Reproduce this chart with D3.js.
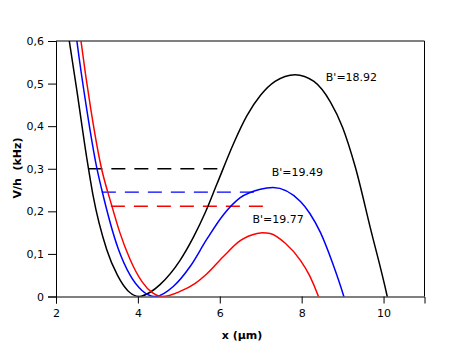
<!DOCTYPE html>
<html>
<head>
<meta charset="utf-8">
<script src="https://cdn.jsdelivr.net/npm/d3@7"></script>
<style>
  body { margin: 0; background: #fff; }
  svg { display: block; font-family: "DejaVu Sans", sans-serif; }
</style>
</head>
<body>
<svg id="chart" width="457" height="350"></svg>
<script>
// potential curves: [x (µm), V/h (kHz)]
const blackCurve = [
  [2.22, 0.67], [2.325, 0.6], [2.5, 0.49], [2.76, 0.32], [2.9, 0.24], [3.24, 0.11],
  [3.5, 0.05], [3.76, 0.013], [4.03, 0], [4.3, 0.01], [4.54, 0.028], [5.03, 0.085],
  [5.36, 0.14], [5.64, 0.196], [5.93, 0.264], [6.34, 0.36], [6.66, 0.424],
  [7.0, 0.473], [7.35, 0.505], [7.84, 0.521], [8.3, 0.505], [8.7, 0.457], [9.0, 0.397],
  [9.31, 0.304], [9.68, 0.16], [10.09, 0], [10.2, -0.05]
];
const blueCurve = [
  [2.42, 0.67], [2.51, 0.6], [2.75, 0.44], [2.99, 0.305], [3.12, 0.25], [3.52, 0.112],
  [3.81, 0.05], [4.1, 0.014], [4.42, 0], [4.87, 0.024], [5.28, 0.071], [5.68, 0.134],
  [6.09, 0.192], [6.5, 0.232], [6.99, 0.252], [7.3, 0.256], [7.97, 0.223], [8.2, 0.195],
  [8.46, 0.15], [8.75, 0.08], [9.03, 0], [9.12, -0.03]
];
const redCurve = [
  [2.52, 0.67], [2.61, 0.6], [2.85, 0.44], [3.09, 0.31], [3.36, 0.214], [3.56, 0.15],
  [3.81, 0.087], [4.1, 0.035], [4.35, 0.009], [4.6, 0], [5.03, 0.012], [5.4, 0.031],
  [5.68, 0.053], [6.09, 0.094], [6.5, 0.131], [6.91, 0.148], [7.05, 0.15], [7.23, 0.148],
  [7.6, 0.125], [7.97, 0.085], [8.2, 0.048], [8.41, 0], [8.5, -0.025]
];

// dashed energy levels: value and x extent
const levelValues = [0.3, 0.245, 0.212];
const levelStarts = [2.79, 3.12, 3.34];
const levelEnds = [6.05, 6.98, 7.07];

const labels = ["B'=18.92", "B'=19.49", "B'=19.77"];
const labelX = [8.59, 7.27, 6.8];
const labelY = [0.505, 0.282, 0.172];

const colors = ["#000000", "#0000ff", "#ff0000"];

const xTicks = [2, 4, 6, 8, 10];
const yTicks = [0, 0.1, 0.2, 0.3, 0.4, 0.5, 0.6];

const svg = d3.select("#chart");
const marginLeft = 56;
const marginTop = 41;
const plotRight = 424.5;
const plotBottom = 296.5;

const x = d3.scaleLinear().domain([2, 11]).range([marginLeft, plotRight]);
const y = d3.scaleLinear().domain([0, 0.6]).range([plotBottom, marginTop]);

svg.append("defs").append("clipPath").attr("id", "plot-clip")
  .append("rect")
  .attr("x", marginLeft).attr("y", marginTop)
  .attr("width", plotRight - marginLeft).attr("height", plotBottom - marginTop);

// frame: top and right
svg.append("line")
  .attr("x1", marginLeft).attr("x2", plotRight)
  .attr("y1", marginTop).attr("y2", marginTop)
  .attr("stroke", "#000");
svg.append("line")
  .attr("x1", plotRight).attr("x2", plotRight)
  .attr("y1", marginTop).attr("y2", plotBottom)
  .attr("stroke", "#000");

svg.append("g")
  .attr("transform", `translate(0, ${plotBottom})`)
  .call(d3.axisBottom(x).tickValues(xTicks).tickSize(7).tickPadding(6).tickFormat(d3.format("d")));

svg.append("g")
  .attr("transform", `translate(${marginLeft}, 0)`)
  .call(d3.axisLeft(y).tickValues(yTicks).tickSize(8).tickPadding(4)
    .tickFormat((d) => (d === 0 ? "0" : d3.format(".1f")(d).replace(".", ","))));

svg.selectAll(".domain").attr("stroke", "#000");
svg.selectAll(".tick line").attr("stroke", "#000");
svg.selectAll(".tick text")
  .attr("fill", "#000")
  .style("font-family", "DejaVu Sans, sans-serif")
  .style("font-size", "11px");

// dashed levels
const plot = svg.append("g").attr("clip-path", "url(#plot-clip)");
levelValues.forEach((v, i) => {
  plot.append("line")
    .attr("x1", x(levelStarts[i])).attr("x2", x(levelEnds[i]))
    .attr("y1", y(v)).attr("y2", y(v))
    .attr("stroke", colors[i])
    .attr("stroke-width", 1.4)
    .attr("stroke-dasharray", "14,9");
});

const line = d3.line()
  .x((d) => x(d[0]))
  .y((d) => y(d[1]))
  .curve(d3.curveMonotoneX);

[blackCurve, blueCurve, redCurve].forEach((c, i) => {
  plot.append("path")
    .datum(c)
    .attr("fill", "none")
    .attr("stroke", colors[i])
    .attr("stroke-width", 1.5)
    .attr("d", line);
});

labels.forEach((t, i) => {
  svg.append("text")
    .attr("x", x(labelX[i]))
    .attr("y", y(labelY[i]))
    .attr("font-size", "11px")
    .attr("fill", "#000")
    .text(t);
});

// axis titles
svg.append("text")
  .attr("x", 242)
  .attr("y", 339)
  .attr("text-anchor", "middle")
  .attr("font-size", "11px")
  .attr("font-weight", "bold")
  .text("x (µm)");

svg.append("text")
  .attr("transform", "translate(21, 168) rotate(-90)")
  .attr("text-anchor", "middle")
  .attr("font-size", "11px")
  .attr("font-weight", "bold")
  .style("white-space", "pre")
  .text("V/h  (kHz)");
</script>
</body>
</html>
